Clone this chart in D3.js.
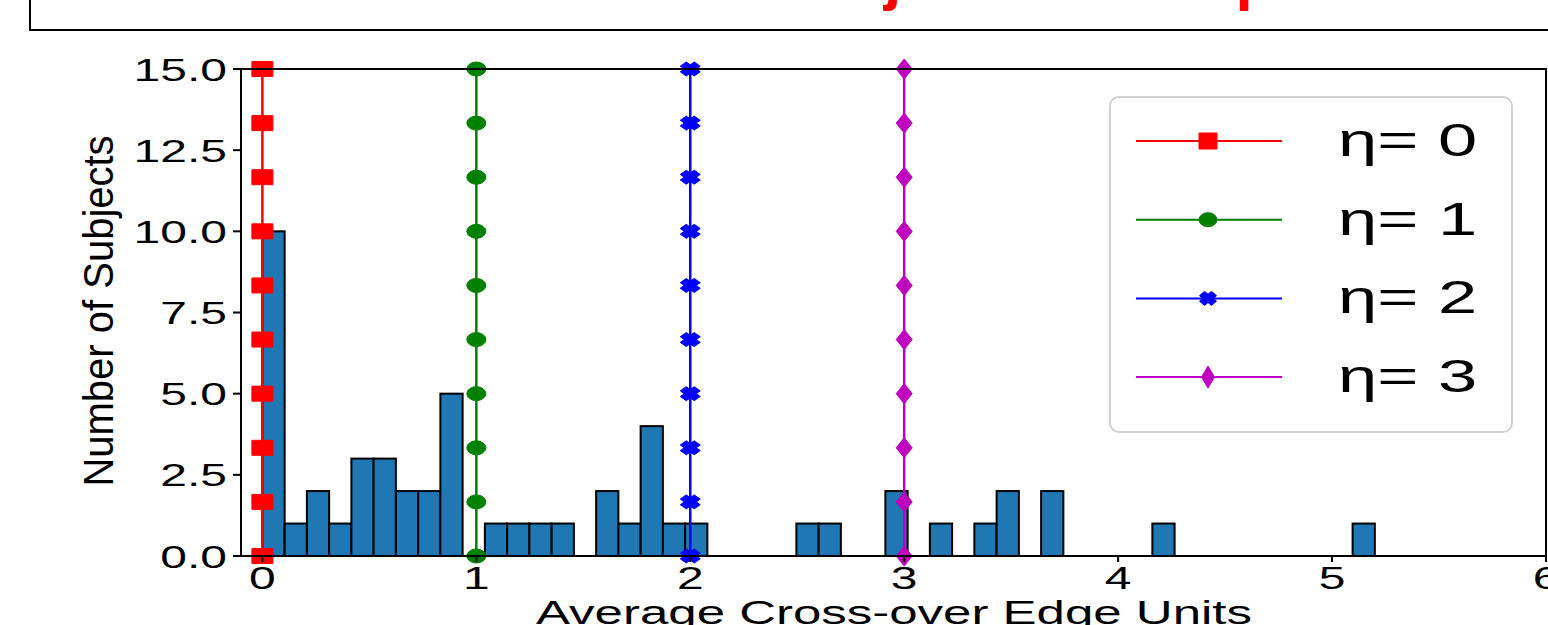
<!DOCTYPE html>
<html>
<head>
<meta charset="utf-8">
<script src="https://cdn.jsdelivr.net/npm/d3@7"></script>
<style>
  body { margin: 0; background: #fff; }
  svg { display: block; font-family: "Liberation Sans", Arial, sans-serif; }
</style>
</head>
<body>
<svg id="chart" width="1548" height="625"></svg>
<script>
// histogram: 50 bins between binLo and binHi
const binLo = 0
const binHi = 5.2
const counts = [10, 1, 2, 1, 3, 3, 2, 2, 5, 0,
                1, 1, 1, 1, 0, 2, 1, 4, 1, 1,
                0, 0, 0, 0, 1, 1, 0, 0, 2, 0,
                1, 0, 1, 2, 0, 2, 0, 0, 0, 0,
                1, 0, 0, 0, 0, 0, 0, 0, 0, 1]

// vertical eta lines
const etas = [0, 1, 2, 3]
const etaLabels = ["η= 0", "η= 1", "η= 2", "η= 3"]
const etaColors = ["#ff0000", "#008000", "#0000ff", "#bf00bf"]
const etaMarkers = ["square", "circle", "x", "diamond"]
const lineYs = [0, 1.667, 3.333, 5, 6.667, 8.333, 10, 11.667, 13.333, 15]

const xTicks = [0, 1, 2, 3, 4, 5, 6]
const yTicks = [0, 2.5, 5, 7.5, 10, 12.5, 15]

const svg = d3.select("#chart")

const x = d3.scaleLinear().domain([-0.1, 6]).range([241, 1546])
const y = d3.scaleLinear().domain([0, 15]).range([556, 69])

// top box with (cut off) red title
svg.append("path")
  .attr("d", "M30,0 V30 H1548")
  .attr("fill", "none")
  .attr("stroke", "#000")
  .attr("stroke-width", 2)

const title = svg.append("text")
  .attr("y", -2)
  .attr("font-size", 62)
  .attr("font-weight", "bold")
  .attr("fill", "#ff0000")
  .text("Distribution of Subjects Overlap")
// put the "j" of Subjects at its place in the picture
const jPos = title.node().getStartPositionOfChar(title.text().indexOf("j")).x
title.attr("x", 884 - jPos)

// histogram bars
const bw = (binHi - binLo) / counts.length
svg.append("g")
  .selectAll("rect")
  .data(counts.map((c, i) => ({lo: binLo + i * bw, hi: binLo + (i + 1) * bw, c: c})).filter(d => d.c > 0))
  .join("rect")
  .attr("x", d => x(d.lo))
  .attr("width", d => x(d.hi) - x(d.lo))
  .attr("y", d => y(d.c))
  .attr("height", d => y(0) - y(d.c))
  .attr("fill", "#1f77b4")
  .attr("stroke", "#000")
  .attr("stroke-width", 2)

// marker shapes, stretched like the picture
function markerPath(kind, w, h) {
  let pts
  if (kind === "square") pts = [[-.5, -.5], [.5, -.5], [.5, .5], [-.5, .5]]
  else if (kind === "diamond") pts = [[0, -.5], [.5, 0], [0, .5], [-.5, 0]]
  else if (kind === "x") pts = [[-.5, -.2], [-.2, -.5], [0, -.3], [.2, -.5], [.5, -.2], [.3, 0],
                               [.5, .2], [.2, .5], [0, .3], [-.2, .5], [-.5, .2], [-.3, 0]]
  else {
    return `M${-w / 2},0 A${w / 2},${h / 2} 0 1,0 ${w / 2},0 A${w / 2},${h / 2} 0 1,0 ${-w / 2},0 Z`
  }
  return "M" + pts.map(p => (p[0] * w) + "," + (p[1] * h)).join("L") + "Z"
}
const markerSize = {square: [21, 15], circle: [19, 14], x: [20, 14], diamond: [16, 20]}
const legendSize = {square: [18, 16], circle: [18, 14], x: [17, 14], diamond: [13, 22]}

const lines = svg.append("g")
etas.forEach((e, i) => {
  const g = lines.append("g")
  g.append("line")
    .attr("x1", x(e)).attr("x2", x(e))
    .attr("y1", y(0)).attr("y2", y(15))
    .attr("stroke", etaColors[i])
    .attr("stroke-width", 2.5)
  g.selectAll("path")
    .data(lineYs)
    .join("path")
    .attr("transform", d => `translate(${x(e)},${y(d)})`)
    .attr("d", markerPath(etaMarkers[i], ...markerSize[etaMarkers[i]]))
    .attr("fill", etaColors[i])
    .attr("stroke", etaColors[i])
    .attr("stroke-width", 1)
})

// spines
svg.append("rect")
  .attr("x", x(-0.1)).attr("y", y(15))
  .attr("width", x(6) - x(-0.1)).attr("height", y(0) - y(15))
  .attr("fill", "none")
  .attr("stroke", "#000")
  .attr("stroke-width", 2)

// y axis
const yAxis = svg.append("g")
yAxis.selectAll("line")
  .data(yTicks)
  .join("line")
  .attr("x1", x(-0.1) - 8).attr("x2", x(-0.1))
  .attr("y1", d => y(d)).attr("y2", d => y(d))
  .attr("stroke", "#000").attr("stroke-width", 2)
yAxis.selectAll("g")
  .data(yTicks)
  .join("g")
  .attr("transform", d => `translate(${x(-0.1) - 14},${y(d) + 11.5})`)
  .append("text")
  .attr("transform", "scale(1.5,1)")
  .attr("text-anchor", "end")
  .attr("font-size", 32)
  .text(d => d.toFixed(1))

// x axis
const xAxis = svg.append("g")
xAxis.selectAll("line")
  .data(xTicks)
  .join("line")
  .attr("x1", d => x(d)).attr("x2", d => x(d))
  .attr("y1", y(0)).attr("y2", y(0) + 6)
  .attr("stroke", "#000").attr("stroke-width", 2)
xAxis.selectAll("g")
  .data(xTicks)
  .join("g")
  .attr("transform", d => `translate(${x(d)},589)`)
  .append("text")
  .attr("transform", "scale(1.5,1)")
  .attr("text-anchor", "middle")
  .attr("font-size", 32)
  .text(d => d)

// axis labels
svg.append("g")
  .attr("transform", "translate(894,624)")
  .append("text")
  .attr("transform", "scale(1.5,1)")
  .attr("text-anchor", "middle")
  .attr("font-size", 34)
  .text("Average Cross-over Edge Units")

svg.append("text")
  .attr("transform", "translate(113,311) rotate(-90) scale(1,1.08)")
  .attr("text-anchor", "middle")
  .attr("font-size", 40)
  .text("Number of Subjects")

// legend
const legend = svg.append("g")
legend.append("rect")
  .attr("x", 1110).attr("y", 97)
  .attr("width", 402).attr("height", 335)
  .attr("rx", 9)
  .attr("fill", "#fff").attr("fill-opacity", 0.85)
  .attr("stroke", "#d0d0d0").attr("stroke-width", 2)

etas.forEach((e, i) => {
  const ly = 141 + i * 78.7
  legend.append("line")
    .attr("x1", 1136).attr("x2", 1282)
    .attr("y1", ly).attr("y2", ly)
    .attr("stroke", etaColors[i]).attr("stroke-width", 2)
  legend.append("path")
    .attr("transform", `translate(1208,${ly})`)
    .attr("d", markerPath(etaMarkers[i], ...legendSize[etaMarkers[i]]))
    .attr("fill", etaColors[i])
    .attr("stroke", etaColors[i])
    .attr("stroke-width", 1)
  legend.append("g")
    .attr("transform", `translate(1338,${ly + 15})`)
    .append("text")
    .attr("transform", "scale(1.5,1)")
    .attr("font-size", 47)
    .text(etaLabels[i])
})
</script>
</body>
</html>
